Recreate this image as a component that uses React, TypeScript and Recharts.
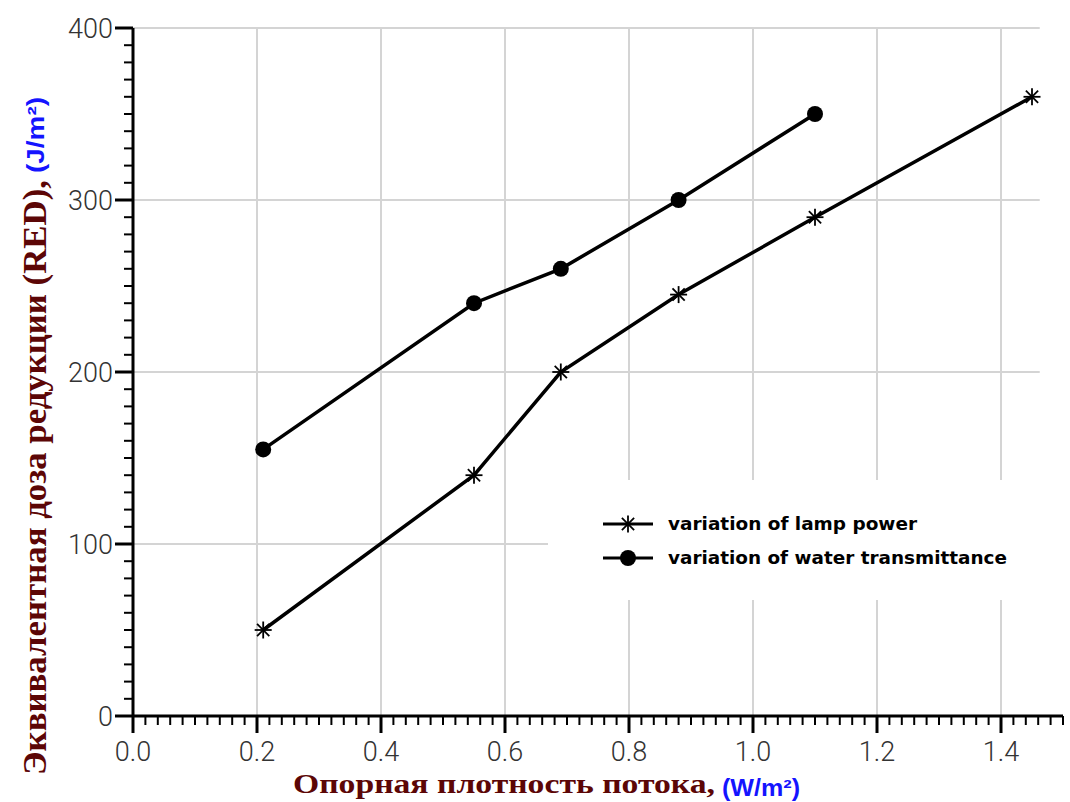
import React from 'react';
import { LineChart, Line, XAxis, YAxis, ReferenceLine, Legend } from 'recharts';

const lampX = [0.21, 0.55, 0.69, 0.88, 1.1, 1.45];
const lampY = [50, 140, 200, 245, 290, 360];
const waterX = [0.21, 0.55, 0.69, 0.88, 1.1];
const waterY = [155, 240, 260, 300, 350];
const seriesNames = ['variation of lamp power', 'variation of water transmittance'];

const xMajorTicks = [0, 0.2, 0.4, 0.6, 0.8, 1.0, 1.2, 1.4];
const xTickLabels = ['0.0', '0.2', '0.4', '0.6', '0.8', '1.0', '1.2', '1.4'];
const yMajorTicks = [0, 100, 200, 300, 400];
const yTickLabels = ['0', '100', '200', '300', '400'];
const xGridValues = [0.2, 0.4, 0.6, 0.8, 1.0, 1.2, 1.4];
const yGridValues = [100, 200, 300, 400];
const xDomain: [number, number] = [0, 1.5];
const yDomain: [number, number] = [0, 400];
const gridEndX = 1.4625;

const xTitle = 'Опорная плотность потока,';
const xUnit = '(W/m²)';
const yTitle = 'Эквивалентная доза редукции (RED),';
const yUnit = '(J/m²)';

const xMinorTicks = Array.from({ length: 76 }, (_, i) => Math.round(i * 2) / 100);
const yMinorTicks = Array.from({ length: 41 }, (_, i) => i * 10);

const lampData = lampX.map((x, i) => ({ x, y: lampY[i] }));
const waterData = waterX.map((x, i) => ({ x, y: waterY[i] }));

const DARK_RED = '#5c0606';
const BLUE = '#1414ff';
const TICK_FONT = { fontFamily: 'Roboto, "Liberation Sans", sans-serif', fontWeight: 300, fontSize: 27, fill: '#333' };

const XTick = (props: any) => {
  const { x, y, payload } = props;
  const v = payload.value;
  const idx = xMajorTicks.findIndex((m) => Math.abs(m - v) < 1e-6);
  const major = idx >= 0;
  return (
    <g>
      <line x1={x} x2={x} y1={y} y2={y + (major ? 17 : 9)} stroke="#000" strokeWidth={major ? 3 : 2} />
      {major && (
        <text x={x} y={y + 45} textAnchor="middle" {...TICK_FONT}>
          {xTickLabels[idx]}
        </text>
      )}
    </g>
  );
};

const YTick = (props: any) => {
  const { x, y, payload } = props;
  const v = payload.value;
  const idx = yMajorTicks.findIndex((m) => Math.abs(m - v) < 1e-6);
  const major = idx >= 0;
  return (
    <g>
      <line x1={x} x2={x - (major ? 18 : 9)} y1={y} y2={y} stroke="#000" strokeWidth={major ? 3 : 2} />
      {major && (
        <text x={x - 20} y={y + 10} textAnchor="end" {...TICK_FONT}>
          {yTickLabels[idx]}
        </text>
      )}
    </g>
  );
};

const StarDot = (props: any) => {
  const { cx, cy } = props;
  if (cx == null || cy == null) return null;
  const r = 8.5;
  const d = r * 0.72;
  return (
    <g stroke="#000" strokeWidth={1.8}>
      <line x1={cx} y1={cy - r} x2={cx} y2={cy + r} />
      <line x1={cx - r} y1={cy} x2={cx + r} y2={cy} />
      <line x1={cx - d} y1={cy - d} x2={cx + d} y2={cy + d} />
      <line x1={cx - d} y1={cy + d} x2={cx + d} y2={cy - d} />
    </g>
  );
};

const CircleDot = (props: any) => {
  const { cx, cy } = props;
  if (cx == null || cy == null) return null;
  return <circle cx={cx} cy={cy} r={8} fill="#000" stroke="none" />;
};

const XTitle = () => (
  <g>
    <text
      x={293}
      y={793}
      textLength={422}
      lengthAdjust="spacingAndGlyphs"
      fontFamily='"Liberation Serif", serif'
      fontWeight="bold"
      fontSize={27}
      fill={DARK_RED}
    >
      {xTitle}
    </text>
    <text
      x={722}
      y={796}
      textLength={78}
      lengthAdjust="spacingAndGlyphs"
      fontFamily='"Liberation Sans", sans-serif'
      fontWeight="bold"
      fontSize={23}
      fill={BLUE}
    >
      {xUnit}
    </text>
  </g>
);

const YTitle = () => (
  <g>
    <text
      x={46}
      y={775}
      transform="rotate(-90 46 775)"
      textLength={595}
      lengthAdjust="spacingAndGlyphs"
      fontFamily='"Liberation Serif", serif'
      fontWeight="bold"
      fontSize={34}
      fill={DARK_RED}
    >
      {yTitle}
    </text>
    <text
      x={44}
      y={173}
      transform="rotate(-90 44 173)"
      textLength={76}
      lengthAdjust="spacingAndGlyphs"
      fontFamily='"Liberation Sans", sans-serif'
      fontWeight="bold"
      fontSize={23}
      fill={BLUE}
    >
      {yUnit}
    </text>
  </g>
);

const LegendContent = (props: any) => {
  const payload = props.payload || [];
  const names = seriesNames;
  const lengths = [249, 339];
  return (
    <svg width={497} height={120} style={{ display: 'block' }}>
      <rect x={0} y={0} width={497} height={120} fill="#fff" />
      {names.map((n, i) => {
        const cy = 44 + i * 34;
        return (
          <g key={n}>
            <line x1={55} x2={105} y1={cy} y2={cy} stroke="#000" strokeWidth={3} />
            {i === 0 ? <StarDot cx={80} cy={cy} /> : <CircleDot cx={80} cy={cy} />}
            <text
              x={120}
              y={cy + 6}
              textLength={lengths[i]}
              lengthAdjust="spacingAndGlyphs"
              fontFamily='"DejaVu Sans", sans-serif'
              fontWeight="bold"
              fontSize={17}
              fill="#000"
            >
              {payload[i] ? payload[i].value : n}
            </text>
          </g>
        );
      })}
    </svg>
  );
};

export default function App() {
  return (
    <div style={{ position: 'absolute', left: 0, top: 0, width: 1070, height: 802, background: '#fff' }}>
      <LineChart width={1070} height={802} margin={{ top: 28, right: 7, bottom: 0, left: 0 }}>
        <XAxis
          type="number"
          dataKey="x"
          domain={xDomain}
          ticks={xMinorTicks}
          interval={0}
          height={86}
          tickSize={0}
          tickMargin={0}
          tickLine={false}
          axisLine={{ stroke: '#000', strokeWidth: 3 }}
          tick={<XTick />}
          label={<XTitle />}
          allowDataOverflow
        />
        <YAxis
          type="number"
          dataKey="y"
          domain={yDomain}
          ticks={yMinorTicks}
          interval={0}
          width={133}
          tickSize={0}
          tickMargin={0}
          tickLine={false}
          axisLine={{ stroke: '#000', strokeWidth: 3 }}
          tick={<YTick />}
          label={<YTitle />}
          allowDataOverflow
        />
        {xGridValues.map((v) => (
          <ReferenceLine key={'gx' + v} x={v} stroke="#d4d4d4" strokeWidth={2} />
        ))}
        {yGridValues.map((v) => (
          <ReferenceLine
            key={'gy' + v}
            segment={[
              { x: 0, y: v },
              { x: gridEndX, y: v },
            ]}
            stroke="#d4d4d4"
            strokeWidth={2}
          />
        ))}
        <Line
          data={lampData}
          dataKey="y"
          name={seriesNames[0]}
          type="linear"
          stroke="#000"
          strokeWidth={3.5}
          dot={<StarDot />}
          activeDot={false}
          isAnimationActive={false}
        />
        <Line
          data={waterData}
          dataKey="y"
          name={seriesNames[1]}
          type="linear"
          stroke="#000"
          strokeWidth={3.5}
          dot={<CircleDot />}
          activeDot={false}
          isAnimationActive={false}
        />
        <Legend
          layout="vertical"
          align="center"
          verticalAlign="middle"
          wrapperStyle={{ position: 'absolute', left: 548, top: 480, width: 497, height: 120, margin: 0 }}
          content={LegendContent}
        />
      </LineChart>
    </div>
  );
}
